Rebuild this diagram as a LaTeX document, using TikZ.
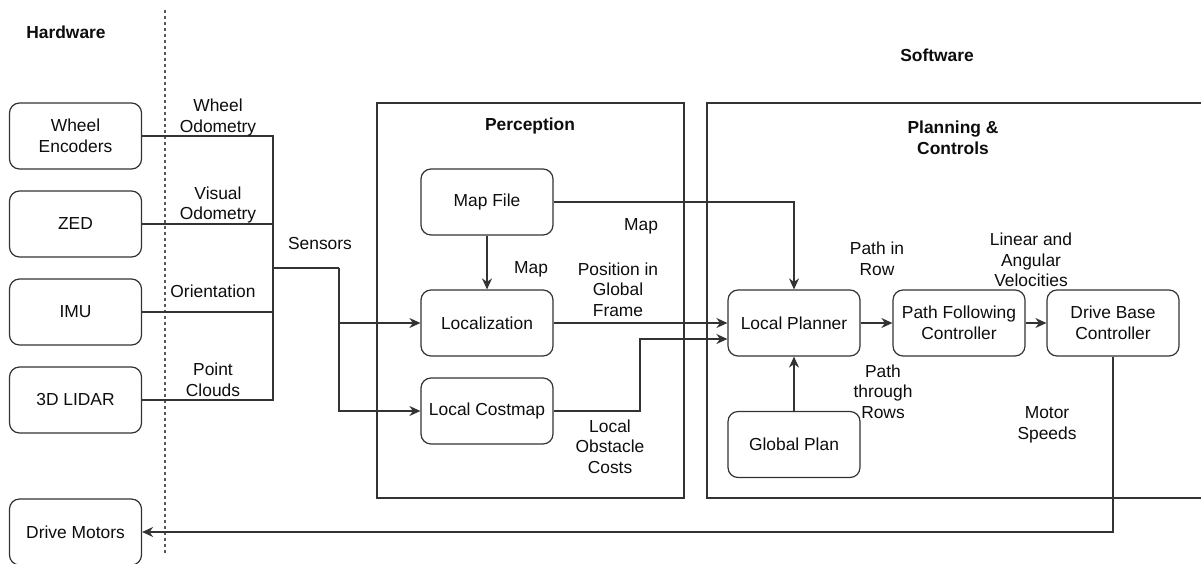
\documentclass[tikz,border=0pt]{standalone}
\usepackage{fontspec}
\setmainfont{Liberation Sans}
\usetikzlibrary{arrows.meta}
\begin{document}
\begin{tikzpicture}[x=1pt,y=-1pt,
  every node/.style={font=\fontsize{17.4}{20.7}\selectfont, text=black!95},
  blk/.style={draw=black!80, line width=1.2pt, rounded corners=10pt, minimum width=132pt, minimum height=66pt, inner sep=2pt, align=center},
  cont/.style={draw=black!80, line width=1.2pt},
  wire/.style={draw=black!80, line width=1.2pt},
  arr/.style={wire, -{Stealth[length=11pt,width=10pt,inset=3.5pt]}},
  lbl/.style={align=center, inner sep=0pt},
  ttl/.style={align=center, inner sep=0pt, font=\fontsize{17.4}{20.7}\selectfont\bfseries}]
\useasboundingbox (0,0) rectangle (1201,563);
\clip (0,0) rectangle (1201,563);

% titles
\node[ttl] (hw) at (66,32) {Hardware};
\node[ttl] (sw) at (937,55) {Software};

% divider
\draw[black!65, line width=1.2pt, dash pattern=on 3pt off 3pt] (165,10) -- (165,553);

% containers
\draw[cont] (377,103) rectangle (684,498);
\draw[cont] (707,103) rectangle (1220,498);
\node[ttl] (perc) at (530,126) {Perception};
\node[ttl] (plan) at (953,137.5) {Planning \&\\Controls};

% hardware blocks
\node[blk] (we) at (75.5,136) {Wheel\\Encoders};
\node[blk] (zed) at (75.5,224) {ZED};
\node[blk] (imu) at (75.5,312) {IMU};
\node[blk] (lidar) at (75.5,400) {3D LIDAR};
\node[blk] (motors) at (75.5,532) {Drive Motors};

% perception blocks
\node[blk] (mapfile) at (487,202) {Map File};
\node[blk] (loc) at (487,323) {Localization};
\node[blk] (cost) at (487,411) {Local Costmap};

% planning blocks
\node[blk] (lp) at (794,323) {Local Planner};
\node[blk] (pfc) at (959,323) {Path Following\\Controller};
\node[blk] (dbc) at (1113,323) {Drive Base\\Controller};
\node[blk] (gp) at (794,444.5) {Global Plan};

% sensor bus
\coordinate (j) at (273,268);
\coordinate (s) at (339,268);
\coordinate (c1) at (640,339);
\draw[wire] (we.east) -| (j);
\draw[wire] (lidar.east) -| (j);
\draw[wire] (zed.east) -- (zed.east -| j);
\draw[wire] (imu.east) -- (imu.east -| j);
\draw[wire] (j) -- (s);
\draw[arr] (s) |- (loc.west);
\draw[arr] (s) |- (cost.west);

% perception to planning
\draw[arr] (mapfile.south) -- (loc.north);
\draw[arr] (mapfile.east) -| (lp.north);
\draw[arr] (loc.east) -- (lp.west);
\draw[arr] (cost.east) -| (c1) -- (c1 -| lp.west);

% planning
\draw[arr] (gp.north) -- (lp.south);
\draw[arr] (lp.east) -- (pfc.west);
\draw[arr] (pfc.east) -- (dbc.west);
\draw[arr] (dbc.south) |- (motors.east);

% labels
\node[lbl] (l1) at (218,117.5) {Wheel\\Odometry};
\node[lbl] (l2) at (218,205) {Visual\\Odometry};
\node[lbl] (l3) at (213,291) {Orientation};
\node[lbl] (l4) at (213,380) {Point\\Clouds};
\node[lbl] (l5) at (320,244) {Sensors};
\node[lbl] (l6) at (531,269) {Map};
\node[lbl] (l7) at (641,226) {Map};
\node[lbl] (l8) at (618,289.5) {Position in\\Global\\Frame};
\node[lbl] (l9) at (610,446.5) {Local\\Obstacle\\Costs};
\node[lbl] (l10) at (877,258.5) {Path in\\Row};
\node[lbl] (l11) at (1031,260) {Linear and\\Angular\\Velocities};
\node[lbl] (l12) at (883,391.5) {Path\\through\\Rows};
\node[lbl] (l13) at (1047,424.5) {Motor\\Speeds};
\end{tikzpicture}
\end{document}
